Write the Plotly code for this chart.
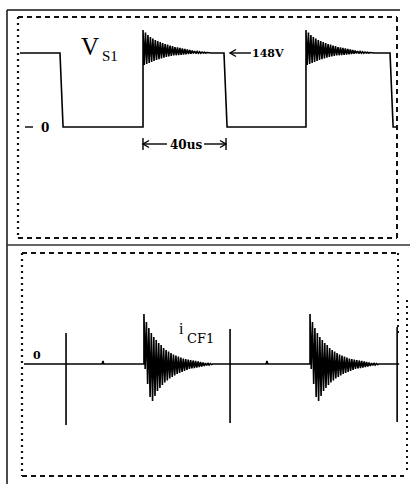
import plotly.graph_objects as go

W, H = 410, 484

# ---------------- data ----------------
# Top trace: v_S1 in volts versus time in microseconds
VS1_HIGH = 148
VS1_LOW = 0
VS1_START = 0.0
VS1_END = 184.0
VS1_FALL_START = [19.5, 99.5, 180.5]   # edge leaves the 148 V level
VS1_FALL_END = [21.0, 101.0, 182.0]    # edge reaches 0 V
VS1_RISE = [60.0, 139.5]
VS1_RING_PEAKS = [194, 189, 184, 180, 177, 174, 172, 170, 168, 166, 165, 163,
                  162, 160, 159, 158, 157, 156, 155, 154, 153, 152, 151, 150.5,
                  150, 149.5, 149, 148.5]
VS1_RING_TROUGHS = [124, 126, 128, 130, 132, 134, 135.5, 137, 138.5, 140, 141,
                    142, 143, 143.5, 144, 144.5, 145, 145.5, 146, 146.5, 147,
                    147, 147.5, 147.5, 148, 148, 148, 148]
RING_HALF_PERIOD = 0.6  # us between a ringing peak and the next trough

# Bottom trace: i_CF1 (arbitrary units) versus time in microseconds
ICF_START = 0.0
ICF_END = 183.0
ICF_SPIKE_T = [20.5, 100.5, 182.0]
ICF_SPIKE_UP = [31, 35, 37]
ICF_SPIKE_DN = [-61, -59, -58]
ICF_BUMP_T = [38.5, 118.5]
ICF_BUMP_H = [3, 3]
ICF_RING_T = [58.5, 139.5]
ICF_RING_PEAKS = [50, 42, 36, 31, 27, 24, 21, 19, 16, 14, 12.5, 11, 9.5, 8.5,
                  7.5, 6.5, 5.5, 5, 4.5, 4, 3.5, 3, 2.5, 2, 1.5, 1, 1, 0.5]
ICF_RING_TROUGHS = [-5, -20, -33, -37, -32, -27, -24, -21, -18.5, -16.5, -14.5,
                    -13, -11.5, -10, -9, -8, -7, -6, -5, -4.5, -4, -3.5, -3,
                    -2.5, -2, -1.5, -1, -0.5]

# ---------------- build the traces ----------------
def ring(t0, peaks, troughs, h):
    xs, ys = [], []
    for k, (p, q) in enumerate(zip(peaks, troughs)):
        xs += [t0 + 2 * k * h, t0 + (2 * k + 1) * h]
        ys += [p, q]
    return xs, ys

vx, vy = [VS1_START, VS1_FALL_START[0], VS1_FALL_END[0]], [VS1_HIGH, VS1_HIGH, VS1_LOW]
for i, tr in enumerate(VS1_RISE):
    vx.append(tr); vy.append(VS1_LOW)
    rx, ry = ring(tr, VS1_RING_PEAKS, VS1_RING_TROUGHS, RING_HALF_PERIOD)
    vx += rx; vy += ry
    vx += [VS1_FALL_START[i + 1], VS1_FALL_END[i + 1]]
    vy += [VS1_HIGH, VS1_LOW]
vx.append(VS1_END); vy.append(VS1_LOW)

events = [(t, "spike", i) for i, t in enumerate(ICF_SPIKE_T)]
events += [(t, "bump", i) for i, t in enumerate(ICF_BUMP_T)]
events += [(t, "ring", i) for i, t in enumerate(ICF_RING_T)]
events.sort()
ix, iy = [ICF_START], [0]
for t, kind, i in events:
    if kind == "spike":
        ix += [t, t, t, t]; iy += [0, ICF_SPIKE_UP[i], ICF_SPIKE_DN[i], 0]
    elif kind == "bump":
        ix += [t - 0.4, t, t + 0.4]; iy += [0, ICF_BUMP_H[i], 0]
    else:
        ix.append(t); iy.append(0)
        rx, ry = ring(t, ICF_RING_PEAKS, ICF_RING_TROUGHS, RING_HALF_PERIOD)
        ix += rx; iy += ry
        ix.append(rx[-1] + RING_HALF_PERIOD); iy.append(0)
ix.append(ICF_END); iy.append(0)

fig = go.Figure()
fig.add_trace(go.Scatter(x=vx, y=vy, mode="lines", xaxis="x", yaxis="y",
                         line=dict(color="black", width=1.6), hoverinfo="skip"))
fig.add_trace(go.Scatter(x=ix, y=iy, mode="lines", xaxis="x2", yaxis="y2",
                         line=dict(color="black", width=1.6), hoverinfo="skip"))

# ---------------- layout ----------------
def px(x):
    return x / W

def py(y):
    return 1 - y / H

hidden = dict(visible=False, showgrid=False, zeroline=False, fixedrange=True)
fig.update_layout(
    width=W, height=H, margin=dict(l=0, r=0, t=0, b=0),
    paper_bgcolor="white", plot_bgcolor="white", showlegend=False,
    xaxis=dict(domain=[px(18), px(397)], range=[-0.98, 183.9], anchor="y", **hidden),
    yaxis=dict(domain=[py(238), py(17)], range=[-222, 220], anchor="x", **hidden),
    xaxis2=dict(domain=[px(22), px(400)], range=[-0.98, 183.4], anchor="y2", **hidden),
    yaxis2=dict(domain=[py(476), py(253)], range=[-112, 111], anchor="x2", **hidden),
)

shapes = []
def pline(x0, y0, x1, y1, width=1.5, dash="solid", color="#111"):
    shapes.append(dict(type="line", xref="paper", yref="paper",
                       x0=px(x0), y0=py(y0), x1=px(x1), y1=py(y1),
                       line=dict(color=color, width=width, dash=dash)))

def parrow(xhead, y, xtail):
    # shaft plus an open arrow head, in pixel positions of the page
    pline(xhead, y, xtail, y, 1.4, color="black")
    s = 1 if xtail > xhead else -1
    shapes.append(dict(type="path", xref="paper", yref="paper",
                       path=f"M {px(xhead + 6 * s)},{py(y - 3.5)} L {px(xhead)},{py(y)} L {px(xhead + 6 * s)},{py(y + 3.5)}",
                       line=dict(color="black", width=1.4)))

# solid outer frame
pline(7, 10, 7, 484, 1.5)
pline(7, 10, 400, 10, 1.5)
pline(7, 245, 410, 245, 1.5, color="#333")
# dashed frame, top panel
D = "5px,4px"
pline(18, 17, 397, 17, 2, D)
pline(18, 238, 397, 238, 2, D)
pline(397, 17, 397, 238, 2, D)
pline(18, 17, 18, 238, 2.2, "2px,4px")
# dashed frame, bottom panel
pline(22, 253, 398, 253, 2, D)
pline(22, 476, 404, 476, 2, D)
pline(22, 253, 22, 476, 2.2, "2px,4px")
pline(398, 253, 398, 335, 2, "2px,4px")
pline(407, 300, 407, 471, 2, "2px,4px")
# zero-level tick in top panel
pline(25, 127, 33, 127, 1.5)
# 40us bars and arrows, 148V arrow
pline(143, 138, 143, 150, 1.5)
pline(226, 138, 226, 150, 1.5)
parrow(143, 144, 167)
parrow(226, 144, 204)
parrow(230, 53, 251)
fig.update_layout(shapes=shapes)

SERIF = "Liberation Serif"
BOLDSERIF = "DejaVu Serif"
ann = []
def text(x, y, s, size, family=SERIF, bold=False, anchor="center"):
    ann.append(dict(xref="paper", yref="paper", x=px(x), y=py(y),
                    text=f"<b>{s}</b>" if bold else s, borderpad=0,
                    showarrow=False, xanchor=anchor, yanchor="middle",
                    font=dict(family=family, size=size, color="black")))

text(100, 46, "V", 25, anchor="right")
text(100.5, 56, "S1", 15, anchor="left")
text(268, 53.5, "148V", 11, BOLDSERIF, True)
text(186, 145, "40us", 12, BOLDSERIF, True)
text(45, 128, "0", 12, BOLDSERIF, True)
text(37, 355, "0", 11, BOLDSERIF, True)
text(185, 328, "i", 16, anchor="right")
text(185.5, 338.5, "CF1", 13, BOLDSERIF, anchor="left")
fig.update_layout(annotations=ann)

fig.write_html("out.html", config={"displayModeBar": False, "staticPlot": True},
               post_script="document.body.style.margin='0';")
